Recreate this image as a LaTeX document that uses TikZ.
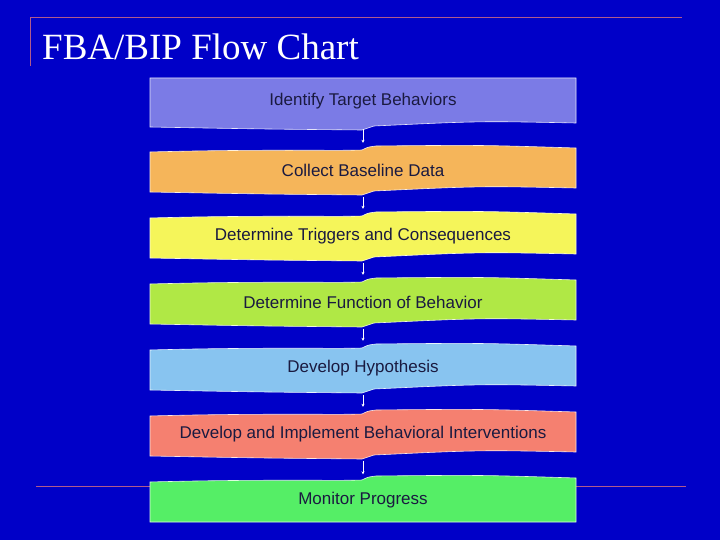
\documentclass[tikz,border=0pt]{standalone}
\usepackage{fontspec}
\setmainfont{Liberation Sans}
\newfontfamily\titlefont{Liberation Serif}
\usepackage{xcolor}
\usetikzlibrary{arrows.meta}
\definecolor{slidebg}{HTML}{0000C8}
\definecolor{rulecol}{HTML}{B05A8C}
\definecolor{boxA}{HTML}{7B7BE6}
\definecolor{boxB}{HTML}{F5B55A}
\definecolor{boxC}{HTML}{F5F55A}
\definecolor{boxD}{HTML}{B0E845}
\definecolor{boxE}{HTML}{88C4F0}
\definecolor{boxF}{HTML}{F58070}
\definecolor{boxG}{HTML}{55EE66}
\definecolor{txt}{HTML}{1A1A40}
% shape of one step: #1 top, #2 bottom, #3 colour, #4 flat top, #5 flat bottom
\newcommand{\stepshape}[5]{%
  \fill[#3, draw=white!80!#3, line width=0.6pt]
    \ifnum#4=1 (150,#1) -- (576,#1)
    \else (150,#1+7) .. controls (260,#1+4) and (340,#1+6) .. (362,#1+5)
      .. controls (368,#1+2) .. (376,#1+1) .. controls (480,#1) .. (576,#1+3) \fi
    \ifnum#5=1 -- (576,#2) -- (150,#2)
    \else -- (576,#2-7) .. controls (480,#2-9) .. (374,#2-4)
      .. controls (368,#2-2) .. (362,#2) .. controls (260,#2-1) .. (150,#2-3) \fi
    -- cycle;}
\tikzset{
  stepbox/.style={minimum width=426pt, inner sep=0pt, text=txt, font=\fontsize{17}{19}\selectfont},
  flowarrow/.style={white, line width=0.8pt, -{Stealth[length=3pt,width=3pt]}, shorten <=2pt, shorten >=2pt}
}
\begin{document}
\begin{tikzpicture}[x=1pt, y=-1pt]
  \fill[slidebg] (0,0) rectangle (720,540);
  \useasboundingbox (0,0) rectangle (720,540);

  % title area rules
  \draw[rulecol, line width=1pt] (30,66) -- (30,18) -- (682,18);
  \draw[rulecol, line width=1pt] (36,486) -- (686,486);
  \node[anchor=base west, inner xsep=0pt, text=white, font=\titlefont\fontsize{37}{40}\selectfont] (title) at (42,60) {FBA/BIP Flow Chart};

  % step shapes
  \stepshape{78}{130}{boxA}{1}{0}
  \stepshape{145}{195}{boxB}{0}{0}
  \stepshape{211}{261}{boxC}{0}{0}
  \stepshape{277}{327}{boxD}{0}{0}
  \stepshape{343}{393}{boxE}{0}{0}
  \stepshape{409}{459}{boxF}{0}{0}
  \stepshape{475}{522}{boxG}{0}{1}

  % step labels
  \node[stepbox, minimum height=52pt] (identify) at (363,101) {Identify Target Behaviors};
  \node[stepbox, minimum height=50pt] (collect) at (363,170) {Collect Baseline Data};
  \node[stepbox, minimum height=50pt] (triggers) at (363,236) {Determine Triggers and Consequences};
  \node[stepbox, minimum height=50pt] (function) at (363,302) {Determine Function of Behavior};
  \node[stepbox, minimum height=50pt] (hypothesis) at (363,368) {Develop Hypothesis};
  \node[stepbox, minimum height=50pt] (interventions) at (363,434) {Develop and Implement Behavioral Interventions};
  \node[stepbox, minimum height=47pt] (monitor) at (363,500) {Monitor Progress};

  % arrows
  \draw[flowarrow] (identify.south) -- (collect.north);
  \draw[flowarrow] (collect.south) -- (triggers.north);
  \draw[flowarrow] (triggers.south) -- (function.north);
  \draw[flowarrow] (function.south) -- (hypothesis.north);
  \draw[flowarrow] (hypothesis.south) -- (interventions.north);
  \draw[flowarrow] (interventions.south) -- (monitor.north);
\end{tikzpicture}
\end{document}
